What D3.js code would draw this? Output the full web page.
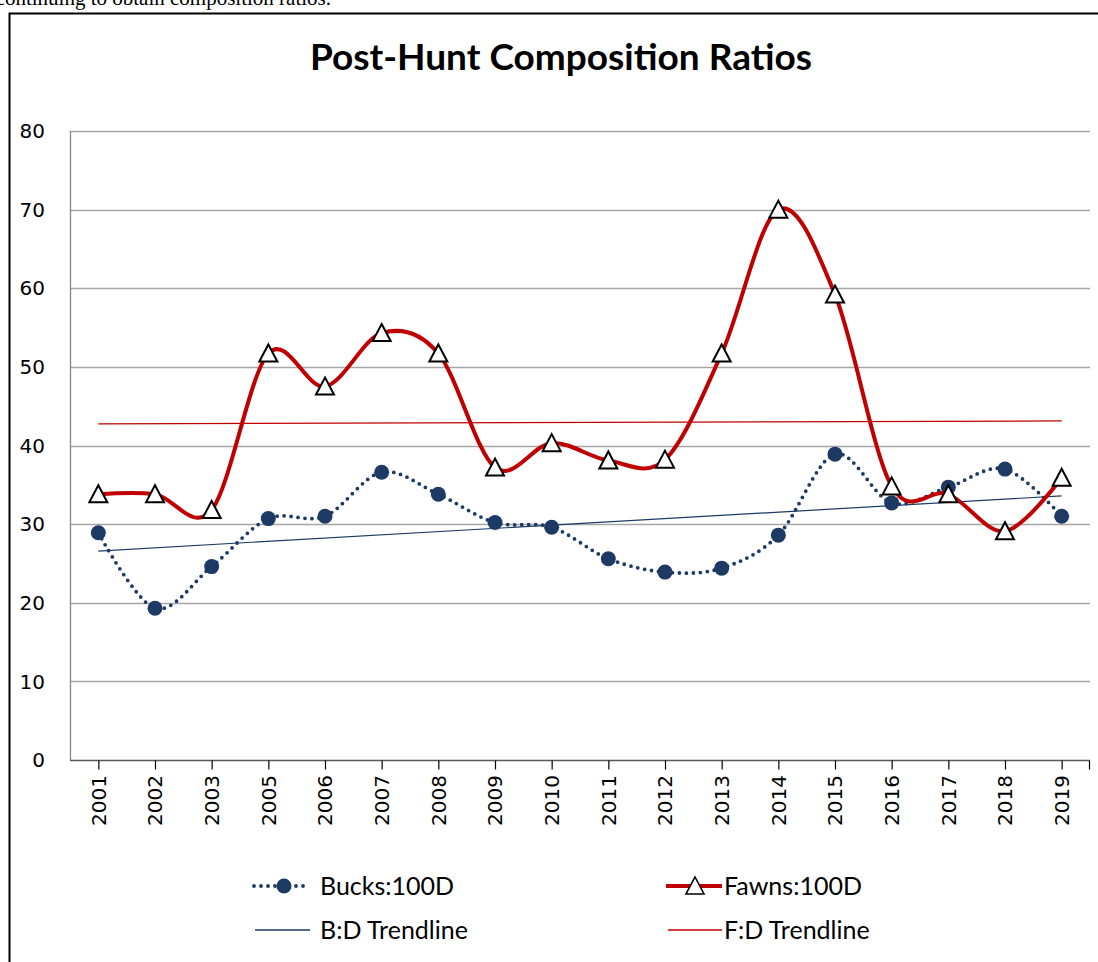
<!DOCTYPE html>
<html>
<head>
<meta charset="utf-8">
<script src="https://cdn.jsdelivr.net/npm/d3@7"></script>
<style>
  html, body { margin: 0; padding: 0; background: #fff; }
  svg { display: block; }
</style>
</head>
<body>
<svg id="chart" width="1098" height="962"></svg>
<script>
const years = ["2001","2002","2003","2005","2006","2007","2008","2009","2010","2011","2012","2013","2014","2015","2016","2017","2018","2019"];
const bucks = [28.9,19.3,24.6,30.7,31.0,36.6,33.8,30.2,29.6,25.6,23.9,24.4,28.6,38.9,32.7,34.7,37.0,31.0];
const fawns = [33.8,33.8,31.8,51.7,47.5,54.3,51.7,37.2,40.3,38.1,38.2,51.7,70.0,59.2,34.8,33.8,29.1,35.9];
const yTicks = [0,10,20,30,40,50,60,70,80];
const title = "Post-Hunt Composition Ratios";
const seriesNames = ["Bucks:100D","Fawns:100D","B:D Trendline","F:D Trendline"];
const topText = "continuing to obtain composition ratios.";

(function () {
const navy = "#1C3A64", red = "#C00000", grid = "#A6A6A6";
const svg = d3.select("#chart");

// page text above the chart (cut off at top, as in the source page)
svg.append("text").attr("x", 331).attr("y", 5).attr("text-anchor", "end")
  .attr("font-family", "Liberation Serif").attr("font-size", 21).attr("fill", "#000")
  .text(topText);

// chart frame
svg.append("rect").attr("x", 9.5).attr("y", 13.5).attr("width", 1200).attr("height", 1000)
  .attr("fill", "#fff").attr("stroke", "#000").attr("stroke-width", 2);

// title
svg.append("text").attr("x", 561).attr("y", 70).attr("text-anchor", "middle")
  .attr("font-family", "Lato").attr("font-weight", "bold").attr("font-size", 37)
  .attr("fill", "#000").text(title);

const pL = 70, pR = 1090, pT = 131, pB = 760;
const x = d3.scalePoint().domain(years).range([pL, pR]).padding(0.5);
const y = d3.scaleLinear().domain([0, 80]).range([pB, pT]);

// gridlines
svg.append("g").selectAll("line").data(yTicks.filter(d => d > 0)).join("line")
  .attr("x1", pL).attr("x2", pR)
  .attr("y1", d => Math.round(y(d)) + 0.5).attr("y2", d => Math.round(y(d)) + 0.5)
  .attr("stroke", grid).attr("stroke-width", 1.3);

// y axis line
svg.append("line").attr("x1", pL + 0.5).attr("x2", pL + 0.5).attr("y1", pT).attr("y2", pB)
  .attr("stroke", "#868686").attr("stroke-width", 1.3);

// y labels
svg.append("g").selectAll("text").data(yTicks).join("text")
  .attr("x", 45).attr("y", d => y(d)).attr("dy", "0.36em").attr("text-anchor", "end")
  .attr("font-family", "DejaVu Sans").attr("font-size", 20).attr("fill", "#000")
  .text(d => d);

// x axis
const xAxis = d3.axisBottom(x).tickSize(9).tickFormat("");
const gx = svg.append("g").attr("transform", `translate(0,${pB + 0.5})`).call(xAxis);
gx.select(".domain").attr("stroke", "#595959").attr("stroke-width", 1.3)
  .attr("d", `M${pL},0H${pR}`);
gx.selectAll(".tick line").attr("stroke", "#000").attr("stroke-width", 1.2);
gx.append("line").attr("x1", pR - 0.5).attr("x2", pR - 0.5).attr("y1", 0).attr("y2", 9)
  .attr("stroke", "#000").attr("stroke-width", 1.2);

// x labels rotated
svg.append("g").selectAll("text").data(years).join("text")
  .attr("transform", d => `translate(${x(d)},775) rotate(-90)`)
  .attr("dy", "0.36em").attr("text-anchor", "end")
  .attr("font-family", "DejaVu Sans").attr("font-size", 20).attr("fill", "#000")
  .text(d => d);

// trendlines (least squares over category index, as the spreadsheet does)
function fit(vals) {
  const n = vals.length, xs = vals.map((_, i) => i + 1);
  const mx = d3.mean(xs), my = d3.mean(vals);
  const b = d3.sum(xs, (xi, i) => (xi - mx) * (vals[i] - my)) / d3.sum(xs, xi => (xi - mx) ** 2);
  const a = my - b * mx;
  return [a + b * 1, a + b * n];
}
const bt = fit(bucks), ft = fit(fawns);
const firstX = x(years[0]), lastX = x(years[years.length - 1]);
svg.append("line").attr("x1", firstX).attr("x2", lastX).attr("y1", y(ft[0])).attr("y2", y(ft[1]))
  .attr("stroke", red).attr("stroke-width", 1.2);
svg.append("line").attr("x1", firstX).attr("x2", lastX).attr("y1", y(bt[0])).attr("y2", y(bt[1]))
  .attr("stroke", navy).attr("stroke-width", 1.2);

const curve = d3.curveCardinal.tension(0);
const line = d3.line().x(d => x(d[0])).y(d => y(d[1])).curve(curve);

// bucks dotted
svg.append("path").datum(years.map((yr, i) => [yr, bucks[i]])).attr("d", line)
  .attr("fill", "none").attr("stroke", navy).attr("stroke-width", 3.8)
  .attr("stroke-dasharray", "0,7").attr("stroke-linecap", "round");
svg.append("g").selectAll("circle").data(years).join("circle")
  .attr("cx", d => x(d)).attr("cy", (d, i) => y(bucks[i])).attr("r", 7.5).attr("fill", navy);

// fawns solid
svg.append("path").datum(years.map((yr, i) => [yr, fawns[i]])).attr("d", line)
  .attr("fill", "none").attr("stroke", red).attr("stroke-width", 4);
const tri = (cx, cy) => `M${cx},${cy - 9}L${cx + 9},${cy + 8}L${cx - 9},${cy + 8}Z`;
svg.append("g").selectAll("path").data(years).join("path")
  .attr("d", (d, i) => tri(x(d), y(fawns[i])))
  .attr("fill", "#fff").attr("stroke", "#000").attr("stroke-width", 2).attr("stroke-linejoin", "miter");

// legend
const lg = svg.append("g").attr("font-family", "Lato").attr("font-size", 25).attr("fill", "#000");
const r1 = 886, r2 = 930;
lg.append("line").attr("x1", 254).attr("x2", 308).attr("y1", r1).attr("y2", r1)
  .attr("stroke", navy).attr("stroke-width", 3.8).attr("stroke-dasharray", "0,7").attr("stroke-linecap", "round");
lg.append("circle").attr("cx", 284).attr("cy", r1).attr("r", 7.5).attr("fill", navy);
lg.append("text").attr("x", 320).attr("y", r1).attr("dy", "0.36em").text(seriesNames[0]);

lg.append("line").attr("x1", 666).attr("x2", 722).attr("y1", r1).attr("y2", r1)
  .attr("stroke", red).attr("stroke-width", 4);
lg.append("path").attr("d", tri(695, r1)).attr("fill", "#fff").attr("stroke", "#000").attr("stroke-width", 1.6);
lg.append("text").attr("x", 724).attr("y", r1).attr("dy", "0.36em").text(seriesNames[1]);

lg.append("line").attr("x1", 255).attr("x2", 310).attr("y1", r2).attr("y2", r2)
  .attr("stroke", navy).attr("stroke-width", 1.3);
lg.append("text").attr("x", 320).attr("y", r2).attr("dy", "0.36em").text(seriesNames[2]);

lg.append("line").attr("x1", 668).attr("x2", 722).attr("y1", r2).attr("y2", r2)
  .attr("stroke", red).attr("stroke-width", 1.3);
lg.append("text").attr("x", 724).attr("y", r2).attr("dy", "0.36em").text(seriesNames[3]);
})();
</script>
</body>
</html>
